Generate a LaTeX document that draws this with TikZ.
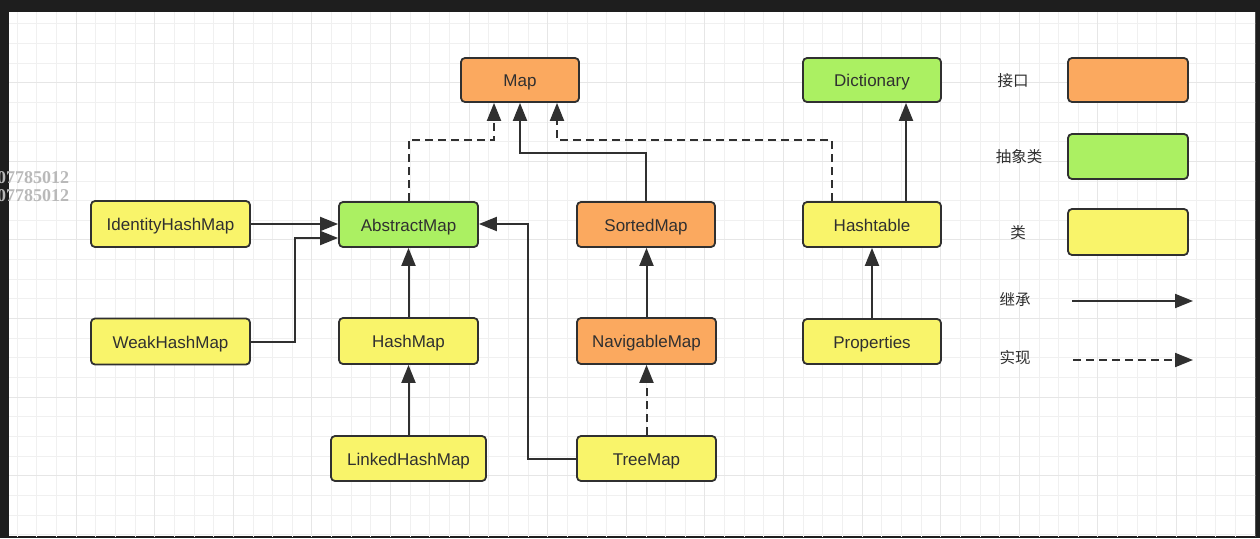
\documentclass[tikz,border=0pt]{standalone}
\usepackage{fontspec}
\setmainfont{Liberation Sans}
\newfontfamily\cjk{Noto Sans CJK SC}
\newfontfamily\wmfont{Liberation Serif}
\usetikzlibrary{arrows.meta}
\definecolor{ifcol}{HTML}{FBA95F}
\definecolor{abcol}{HTML}{ABF062}
\definecolor{clcol}{HTML}{F9F46A}
\definecolor{edge}{HTML}{303030}
\definecolor{frame}{HTML}{1E1E1E}
\definecolor{gminor}{HTML}{F0F0F0}
\definecolor{gmajor}{HTML}{E6E6E6}
\tikzset{
  box/.style={rectangle, rounded corners=4pt, draw=edge, line width=1.8pt,
    text=edge, font=\fontsize{17}{20}\selectfont, inner sep=0pt,
    text height=13pt, text depth=0pt},
  ifbox/.style={box, fill=ifcol},
  abbox/.style={box, fill=abcol},
  clbox/.style={box, fill=clcol},
  inh/.style={draw=edge, line width=2pt, -{Triangle[length=18pt,width=14pt]}},
  impl/.style={inh, dash pattern=on 8pt off 5pt},
  legtext/.style={font=\cjk\fontsize{15.5}{18}\selectfont, text=edge, inner sep=0pt},
  gridminor/.style={draw=gminor, line width=0.7pt},
  gridmajor/.style={draw=gmajor, line width=1pt}
}
\begin{document}
\begin{tikzpicture}[x=1pt, y=-1pt]
\useasboundingbox (0,0) rectangle (1260,538);
% frame and paper
\fill[frame] (0,0) rectangle (1260,538);
\fill[white] (9,12) rectangle (1255,536);
\begin{scope}
  \clip (9,12) rectangle (1255,536);
  \foreach \i in {0,...,64} {
    \draw[gridminor] ({-2.6+19.65*\i},0) -- ++(0,540);
  }
  \foreach \j in {-1,...,28} {
    \draw[gridminor] (0,{4+19.65*\j}) -- ++(1260,0);
  }
  \foreach \i in {0,...,16} {
    \draw[gridmajor] ({-2.6+78.6*\i},0) -- ++(0,540);
  }
  \foreach \j in {0,...,7} {
    \draw[gridmajor] (0,{4+78.6*\j}) -- ++(1260,0);
  }
\end{scope}
% watermark
\node[anchor=west, inner sep=0pt, text=gray!55, font=\wmfont\bfseries\fontsize{18}{18}\selectfont] (wm1) at (-3,178) {07785012};
\node[anchor=west, inner sep=0pt, text=gray!55, font=\wmfont\bfseries\fontsize{18}{18}\selectfont] (wm2) at (-3,196) {07785012};

% nodes
\node[ifbox, minimum width=118, minimum height=44] (map) at (520,80) {Map};
\node[abbox, minimum width=138, minimum height=44] (dict) at (872,80) {Dictionary};
\node[clbox, minimum width=159, minimum height=46] (ihm) at (170.5,224) {IdentityHashMap};
\node[abbox, minimum width=139, minimum height=45] (am) at (408.5,224.5) {AbstractMap};
\node[ifbox, minimum width=138, minimum height=45] (sm) at (646,224.5) {SortedMap};
\node[clbox, minimum width=138, minimum height=45] (ht) at (872,224.5) {Hashtable};
\node[clbox, minimum width=159, minimum height=46] (whm) at (170.5,341.5) {WeakHashMap};
\node[clbox, minimum width=139, minimum height=46] (hm) at (408.5,341) {HashMap};
\node[ifbox, minimum width=139, minimum height=46] (nm) at (646.5,341) {NavigableMap};
\node[clbox, minimum width=138, minimum height=45] (prop) at (872,341.5) {Properties};
\node[clbox, minimum width=155, minimum height=45] (lhm) at (408.5,458.5) {LinkedHashMap};
\node[clbox, minimum width=139, minimum height=45] (tm) at (646.5,458.5) {TreeMap};

% legend
\node[ifbox, minimum width=120, minimum height=44] (lg1) at (1128,80) {};
\node[abbox, minimum width=120, minimum height=45] (lg2) at (1128,156.5) {};
\node[clbox, minimum width=120, minimum height=46] (lg3) at (1128,232) {};
\node[legtext] (lt1) at (1013,81) {接口};
\node[legtext] (lt2) at (1019,157) {抽象类};
\node[legtext] (lt3) at (1018,233) {类};
\node[legtext] (lt4) at (1015,300) {继承};
\node[legtext] (lt5) at (1015,358) {实现};
\coordinate (la1) at (1072,301);
\coordinate (lb1) at (1193,301);
\coordinate (la2) at (1073,360);
\coordinate (lb2) at (1193,360);
\draw[inh] (la1) -- (lb1);
\draw[impl] (la2) -- (lb2);

% connectors
\coordinate (k1) at (494,140);
\draw[impl] (am.north) |- (k1) -- (k1 |- map.south);
\coordinate (k2) at (520,153);
\draw[inh] (sm.north) |- (k2) -- (map.south);
\coordinate (k3) at (832,140);
\coordinate (k4) at (557,140);
\draw[impl] (k3 |- ht.north) -- (k3) -- (k4) -- (k4 |- map.south);
\coordinate (k5) at (906,150);
\draw[inh] (k5 |- ht.north) -- (k5 |- dict.south);
\draw[inh] (ihm.east) -- (am.west |- ihm.east);
\coordinate (k6) at (295,238);
\draw[inh] (whm.east) -| (k6) -- (k6 -| am.west);
\draw[inh] (hm.north) -- (am.south);
\coordinate (k8) at (528,224);
\draw[inh] (tm.west) -| (k8) -- (k8 -| am.east);
\draw[inh] (nm.north) -- (nm.north |- sm.south);
\draw[impl] (tm.north) -- (nm.south);
\draw[inh] (prop.north) -- (ht.south);
\draw[inh] (lhm.north) -- (hm.south);
\end{tikzpicture}
\end{document}
